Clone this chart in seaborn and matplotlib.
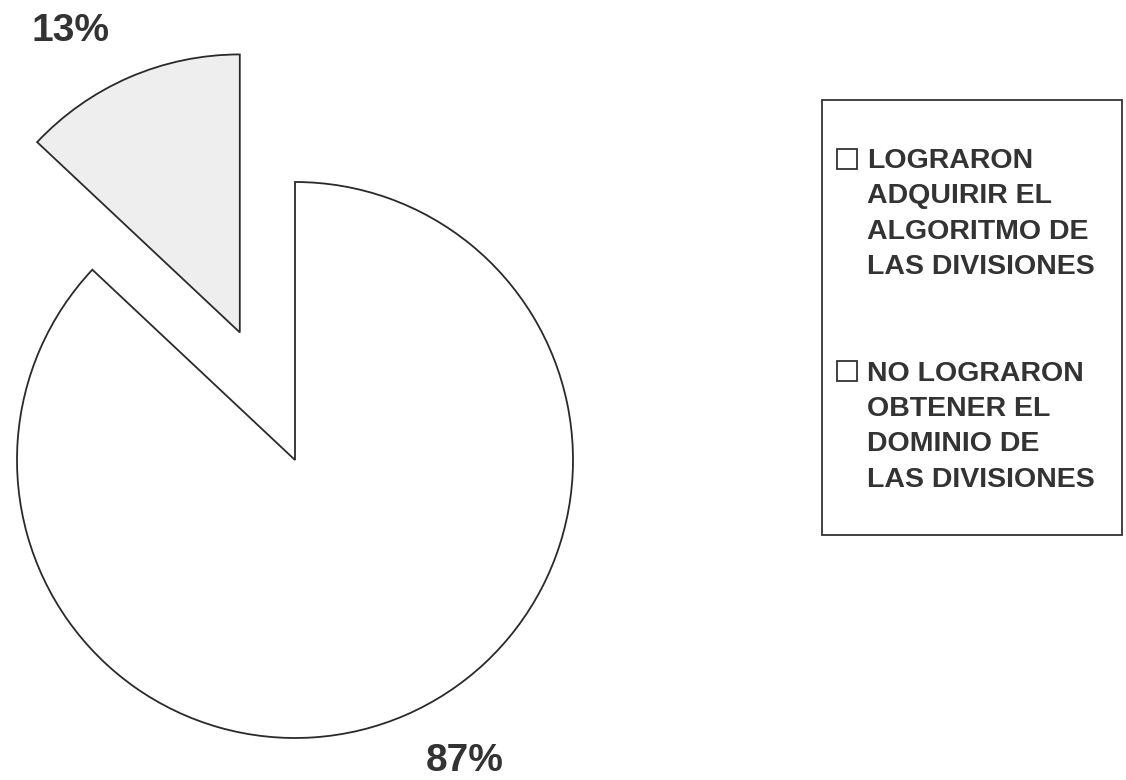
import matplotlib
matplotlib.use("Agg")
import matplotlib.pyplot as plt
import seaborn as sns
from matplotlib.patches import Rectangle

# ---- data ----
categories = ["LOGRARON\nADQUIRIR EL\nALGORITMO DE\nLAS DIVISIONES",
              "NO LOGRARON\nOBTENER EL\nDOMINIO DE\nLAS DIVISIONES"]
values = [13, 87]
pct_labels = ["13%", "87%"]
explode_amounts = [0.5, 0.0]
slice_colors = ["#eeeeee", "#ffffff"]

sns.set_theme(style="white")
plt.rcParams["font.family"] = ["Liberation Sans", "DejaVu Sans"]

W, H, DPI = 1126, 780, 100
fig = plt.figure(figsize=(W / DPI, H / DPI), dpi=DPI)
fig.patch.set_facecolor("white")
ax = fig.add_axes([0, 0, 1, 1])

# pie geometry in pixels -> data units
cx, cy, R = 295, 460, 278
wedges, texts = ax.pie(values, explode=explode_amounts, colors=slice_colors,
                       labels=pct_labels, labeldistance=1.18,
                       startangle=90, counterclock=True,
                       wedgeprops=dict(edgecolor="#2a2a2a", linewidth=1.3),
                       textprops=dict(fontsize=28, fontweight="bold", color="#333333"))
ax.set_xlim(-cx / R, (W - cx) / R)
ax.set_ylim(-(H - cy) / R, cy / R)
ax.set_aspect("auto")
ax.axis("off")

# legend
FS = 20.5
leg = ax.legend(wedges, categories, loc="upper left",
                bbox_to_anchor=(823 / W, 1 - 134 / H), bbox_transform=fig.transFigure,
                frameon=False, fontsize=FS, handlelength=0.7, handleheight=0.7,
                handletextpad=0.36, labelspacing=2.85, borderpad=0.0)
for t in leg.get_texts():
    t.set_fontweight("bold")
    t.set_color("#333333")
    t.set_linespacing(1.46)
for h in leg.legend_handles:
    h.set_edgecolor("#333333")
    h.set_facecolor("#ffffff")
    h.set_linewidth(1.3)

# align each legend marker with the first line of its label
fig.canvas.draw()
renderer = fig.canvas.get_renderer()
fs_px = FS * DPI / 72
for h, t in zip(leg.legend_handles, leg.get_texts()):
    tb = t.get_window_extent(renderer)
    hb = h.get_window_extent(renderer)
    target_top = tb.y1 - 0.19 * fs_px + 5
    shift_px = target_top - hb.y1
    h.set_y(h.get_y() + shift_px * 72 / DPI)

fig.patches.append(Rectangle((822 / W, 1 - 535 / H), (1122 - 822) / W, (535 - 100) / H,
                             transform=fig.transFigure, fill=False,
                             edgecolor="#333333", linewidth=1.3))

fig.savefig("out.png", dpi=DPI, facecolor="white")
